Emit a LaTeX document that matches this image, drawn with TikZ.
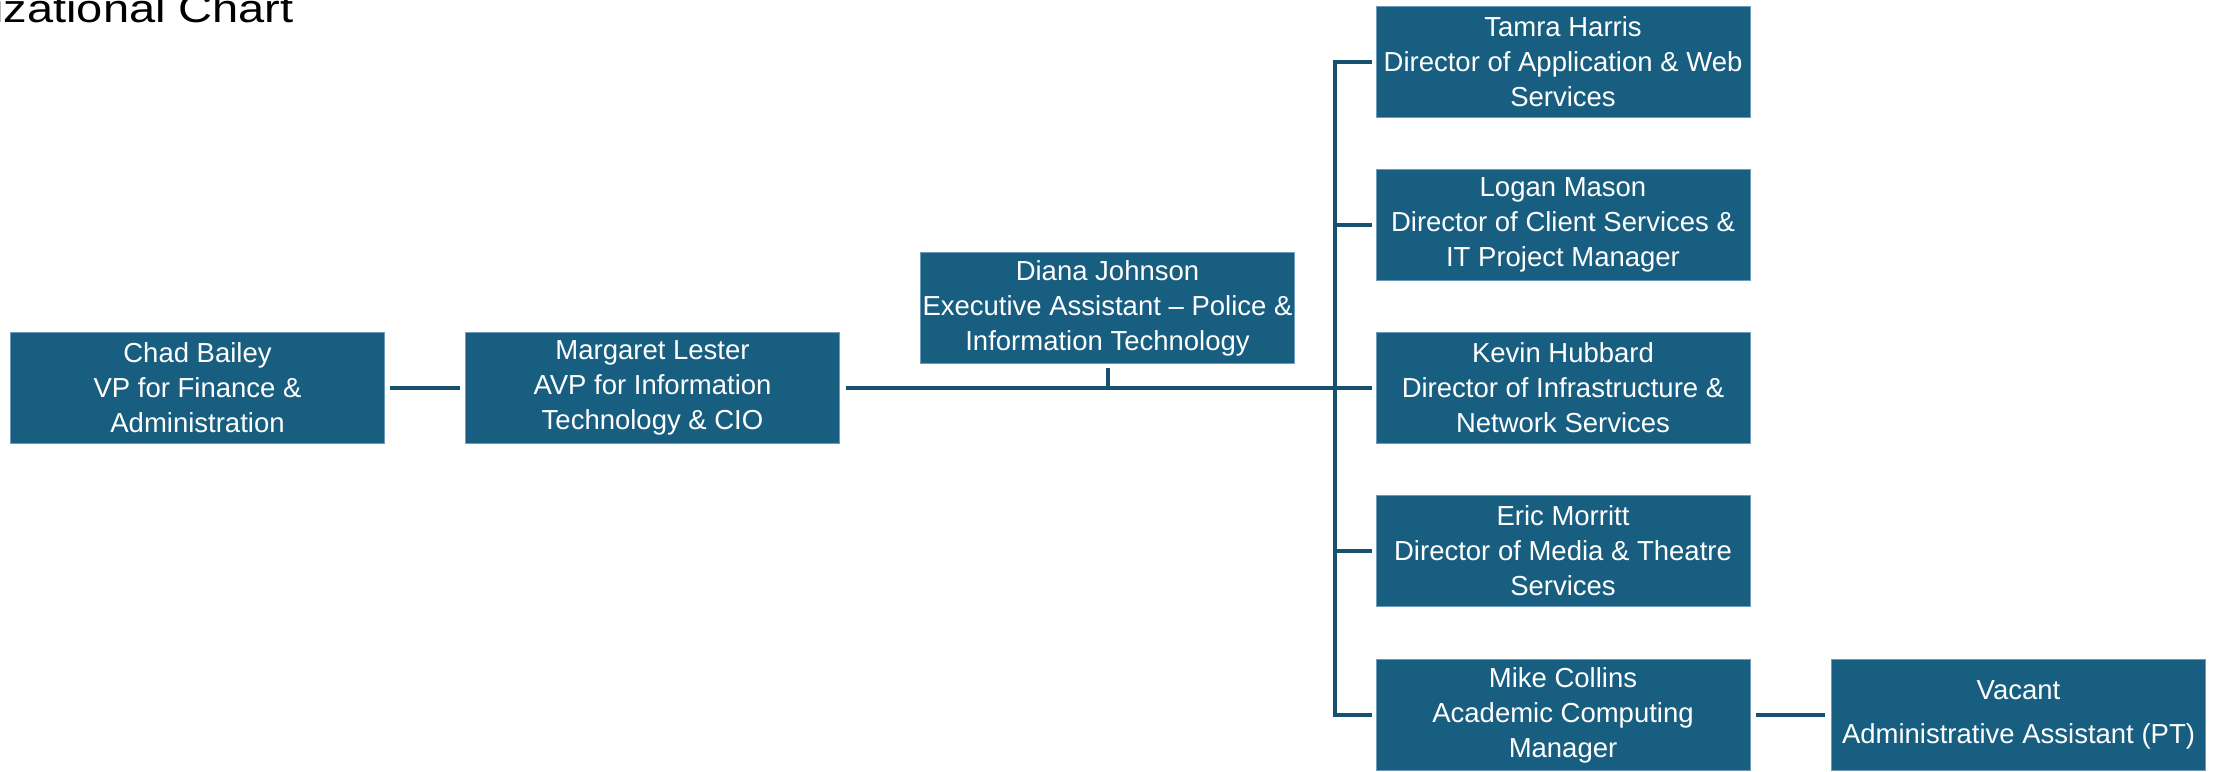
\documentclass[tikz,border=0pt]{standalone}
\usepackage{fontspec}
\setmainfont{Liberation Sans}
\usetikzlibrary{calc}
\definecolor{boxblue}{RGB}{24,94,128}
\definecolor{edgeblue}{RGB}{110,155,185}
\definecolor{linecol}{RGB}{22,82,112}
\begin{document}
\begin{tikzpicture}[x=1pt,y=-1pt,
 orgbox/.style={rectangle, fill=boxblue, draw=edgeblue, line width=0.8pt, minimum width=374pt, minimum height=111pt, inner sep=0pt, text=white, align=center, font=\fontsize{27.5}{35}\selectfont},
 conn/.style={draw=linecol, line width=4pt}]
\useasboundingbox (0,0) rectangle (2218,771);
\clip (0,0) rectangle (2218,771);
\node[anchor=base east, font=\fontsize{39.5}{42}\selectfont, inner sep=0pt] (title) at (294,22) {\scalebox{1.19}[1]{Organizational Chart}};

\node[orgbox] (chad) at (197.5,388) {Chad Bailey\\VP for Finance \&\\Administration};
\node[orgbox] (marg) at (652.5,388) {Margaret Lester\\AVP for Information\\Technology \& CIO};
\node[orgbox] (diana) at (1107.5,308) {Diana Johnson\\Executive Assistant -- Police \&\\Information Technology};
\node[orgbox] (tamra) at (1563,62) {Tamra Harris\\Director of Application \& Web\\Services};
\node[orgbox] (logan) at (1563,225) {Logan Mason\\Director of Client Services \&\\IT Project Manager};
\node[orgbox] (kevin) at (1563,388) {Kevin Hubbard\\Director of Infrastructure \&\\Network Services};
\node[orgbox] (eric) at (1563,551) {Eric Morritt\\Director of Media \& Theatre\\Services};
\node[orgbox] (mike) at (1563,715) {Mike Collins\\Academic Computing\\Manager};
\node[orgbox] (vacant) at (2018.5,715) {Vacant\\[9pt]Administrative Assistant (PT)};

\coordinate (ttop) at (1335,62);
\coordinate (tbot) at (1335,715);

\draw[conn] ($(chad.east)+(5,0)$) -- ($(marg.west)+(-5,0)$);
\draw[conn] ($(marg.east)+(6,0)$) -- ($(kevin.west)+(-4,0)$);
\draw[conn] ($(diana.south)+(0,4)$) -- (diana.south |- marg.east);
\draw[conn] ($(tamra.west)+(-4,0)$) -| (ttop) -- (tbot) -- ($(mike.west)+(-4,0)$);
\draw[conn] (1335,225) -- ($(logan.west)+(-4,0)$);
\draw[conn] (1335,551) -- ($(eric.west)+(-4,0)$);
\draw[conn] ($(mike.east)+(6,0)$) -- ($(vacant.west)+(-6,0)$);
\end{tikzpicture}
\end{document}
